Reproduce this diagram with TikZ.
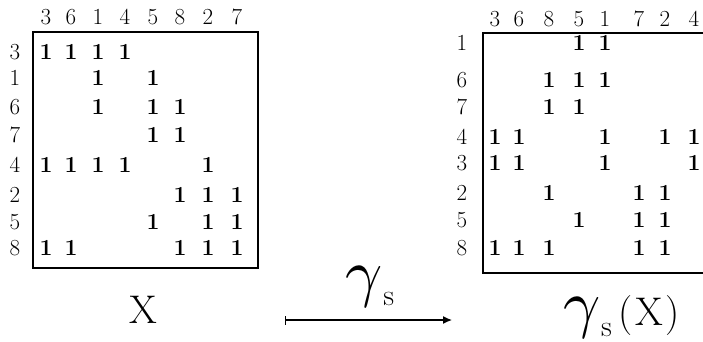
\documentclass[tikz,border=0pt]{standalone}
\usepackage{graphicx}
\usetikzlibrary{arrows.meta}
\newcommand{\gsym}{\scalebox{6.5}{$\gamma$}\raisebox{-11pt}{\fontsize{30}{30}\selectfont s}}
\begin{document}
\begin{tikzpicture}[x=1pt,y=-1pt,
  lbl/.style={font=\fontsize{23}{24}\selectfont, inner sep=0pt},
  ent/.style={font=\fontsize{23}{24}\selectfont\bfseries, inner sep=0pt},
  frame/.style={line width=1.3pt},
  big/.style={font=\fontsize{40}{42}\selectfont, inner sep=0pt}]
\useasboundingbox (0,0) rectangle (703,341);
% ---------- left matrix ----------
\draw[frame] (33,32) rectangle (258,268);
\foreach \c [count=\i] in {3,6,1,4,5,8,2,7}{
  \pgfmathsetmacro{\xx}{{46,71,98,125,153,180,208,237}[\i-1]}
  \node[lbl] (lc\i) at (\xx,17) {\c};}
\foreach \r [count=\j] in {3,1,6,7,4,2,5,8}{
  \pgfmathsetmacro{\yy}{{52,78,107,135,165,195,222,248}[\j-1]}
  \node[lbl] (lr\j) at (15,\yy) {\r};}
\foreach \j/\cols in {1/{1,2,3,4},2/{3,5},3/{3,5,6},4/{5,6},5/{1,2,3,4,7},6/{6,7,8},7/{5,7,8},8/{1,2,6,7,8}}{
  \foreach \i in \cols{
    \node[ent] (l\j-\i) at (lc\i |- lr\j) {1};}}
\node[big] (X) at (143,310) {X};
% ---------- arrow ----------
\coordinate (as) at (285,320);
\coordinate (ae) at (452,320);
\draw[line width=1.3pt, {Bar[width=9pt]}-{Latex[length=9pt,width=8pt]}] (as) -- (ae);
\node[inner sep=0pt] (g) at (370,287) {\gsym};
% ---------- right matrix ----------
\draw[frame] (710,33) -- (483,33) -- (483,273) -- (710,273);
\foreach \c [count=\i] in {3,6,8,5,1,7,2,4}{
  \pgfmathsetmacro{\xx}{{495,519,549,579,605,639,665,694}[\i-1]}
  \node[lbl] (rc\i) at (\xx,19) {\c};}
\foreach \r [count=\j] in {1,6,7,4,3,2,5,8}{
  \pgfmathsetmacro{\yy}{{43,80,107,137,163,193,220,248}[\j-1]}
  \node[lbl] (rr\j) at (462,\yy) {\r};}
\foreach \j/\cols in {1/{4,5},2/{3,4,5},3/{3,4},4/{1,2,5,7,8},5/{1,2,5,8},6/{3,6,7},7/{4,6,7},8/{1,2,3,6,7}}{
  \foreach \i in \cols{
    \node[ent] (r\j-\i) at (rc\i |- rr\j) {1};}}
\node[inner sep=0pt] (gx) at (622,317) {\gsym\hspace{6pt}{\fontsize{40}{42}\selectfont (\hspace{3pt}X\hspace{3pt})}};
\end{tikzpicture}
\end{document}
